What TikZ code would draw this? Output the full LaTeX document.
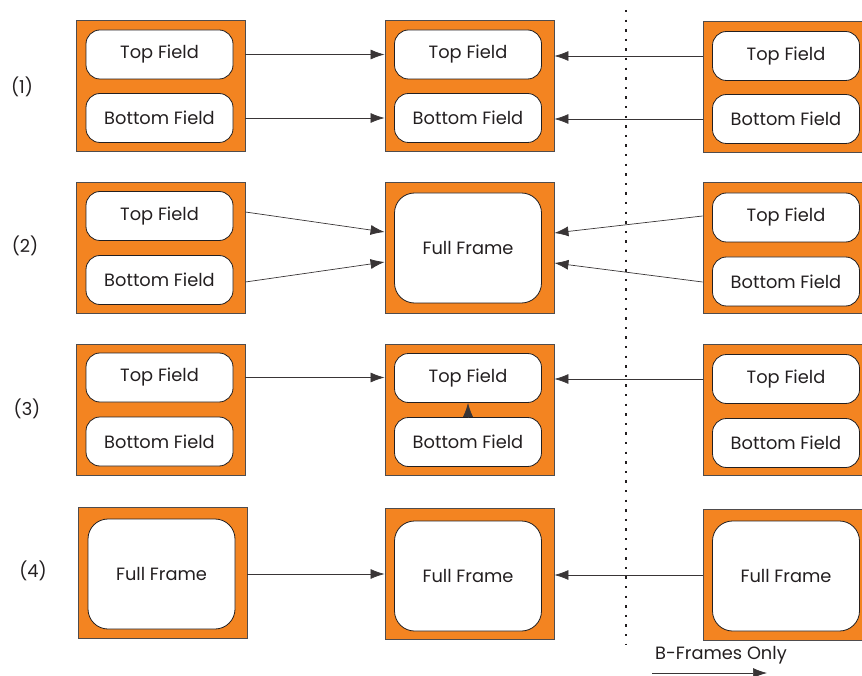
\documentclass[tikz,border=0pt]{standalone}
\usepackage{fontspec}
\setmainfont{Poppins}
\usetikzlibrary{arrows.meta}

\definecolor{frameorange}{RGB}{243,132,33}
\definecolor{ink}{RGB}{35,31,32}

\tikzset{
  frame/.style={draw=ink!80, line width=0.9pt, fill=frameorange,
    minimum width=169pt, minimum height=131pt, inner sep=0pt},
  field/.style={draw=ink, line width=0.8pt, fill=white, rounded corners=14pt,
    minimum width=147pt, minimum height=49pt, inner sep=0pt, text=ink},
  fullframe/.style={field, rounded corners=20pt, minimum height=110pt},
  link/.style={draw=ink!90, line width=0.7pt, -{Latex[length=14pt,width=10pt]}},
  rowlabel/.style={text=ink},
}

\begin{document}
\begin{tikzpicture}[x=1pt, y=-1pt, font=\fontsize{17.8}{21}\selectfont]
  \useasboundingbox (0,0) rectangle (862,676);

  % row labels
  \foreach \y/\n/\x in {87/1/22, 246/2/25, 409/3/27, 571/4/33}
    \node[rowlabel] (lab\n) at (\x,\y) {(\n)};

  % (1) field pair -> field pair <- field pair
  \node[frame] (l1) at (160.5,86) {};
  \node[field] (l1a) at (159.5,54.5) {Top Field};
  \node[field] (l1b) at (159.5,118) {Bottom Field};
  \node[frame] (m1) at (469.5,86) {};
  \node[field] (m1a) at (468,54.5) {Top Field};
  \node[field] (m1b) at (468,118) {Bottom Field};
  \node[frame] (r1) at (787.5,87) {};
  \node[field] (r1a) at (786,56) {Top Field};
  \node[field] (r1b) at (786,119) {Bottom Field};
  \draw[link] (l1a -| l1.east) -- (l1a -| m1.west);
  \draw[link] (l1b -| l1.east) -- (l1b -| m1.west);
  \draw[link] (r1a -| r1.west) -- (r1a -| m1.east);
  \draw[link] (r1b -| r1.west) -- (r1b -| m1.east);

  % (2) field pairs -> full frame
  \node[frame] (l2) at (160.5,248) {};
  \node[field] (l2a) at (159.5,216) {Top Field};
  \node[field] (l2b) at (159.5,280) {Bottom Field};
  \node[frame] (m2) at (469.5,248) {};
  \node[fullframe] (m2f) at (468,248) {Full Frame};
  \node[frame] (r2) at (787.5,248) {};
  \node[field] (r2a) at (786,217.5) {Top Field};
  \node[field] (r2b) at (786,281.5) {Bottom Field};
  \draw[link] ([yshift=36pt]l2.east) -- ([yshift=16pt]m2.west);
  \draw[link] ([yshift=-34pt]l2.east) -- ([yshift=-14pt]m2.west);
  \draw[link] ([yshift=32pt]r2.west) -- ([yshift=15pt]m2.east);
  \draw[link] ([yshift=-34pt]r2.west) -- ([yshift=-15pt]m2.east);

  % (3) bottom field predicted from top field
  \node[frame] (l3) at (160.5,409.5) {};
  \node[field] (l3a) at (159.5,377.5) {Top Field};
  \node[field] (l3b) at (159.5,441.5) {Bottom Field};
  \node[frame] (m3) at (469.5,409.5) {};
  \node[field] (m3a) at (468,378) {Top Field};
  \node[field] (m3b) at (468,442) {Bottom Field};
  \node[frame] (r3) at (787.5,410) {};
  \node[field] (r3a) at (786,379) {Top Field};
  \node[field] (r3b) at (786,443) {Bottom Field};
  \draw[link] (l3a -| l3.east) -- (l3a -| m3.west);
  \draw[link] (r3a -| r3.west) -- (r3a -| m3.east);
  \draw[link] (m3b.north) -- (m3a.south);

  % (4) full frames
  \node[frame] (l4) at (162.5,573) {};
  \node[fullframe] (l4f) at (161.5,574) {Full Frame};
  \node[frame] (m4) at (469.5,574) {};
  \node[fullframe] (m4f) at (468,576) {Full Frame};
  \node[frame] (r4) at (787.5,575) {};
  \node[fullframe] (r4f) at (786,576) {Full Frame};
  \draw[link] (l4f -| l4.east) -- (l4f -| m4.west);
  \draw[link] (r4.west) -- (r4 -| m4.east);

  % B-frame boundary
  \draw[ink, line width=2.4pt, dash pattern=on 2.4pt off 7.2pt]
    (626,10) -- (626,645);
  \node[text=ink] (bonly) at (721,655) {B-Frames Only};
  \coordinate (bfrom) at (652,673);
  \coordinate (bto) at (767,673);
  \draw[link] (bfrom) -- (bto);
\end{tikzpicture}
\end{document}
